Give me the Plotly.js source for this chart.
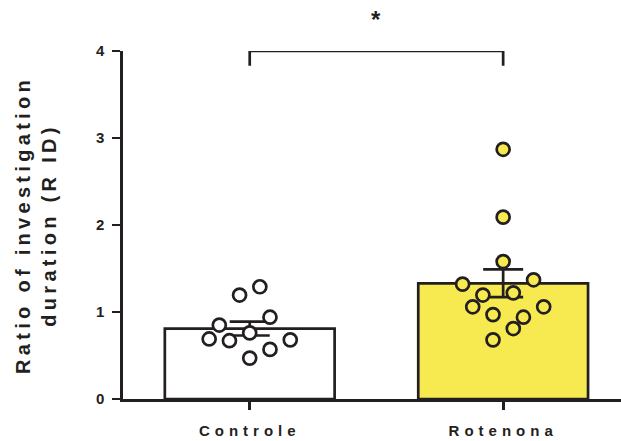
<!DOCTYPE html>
<html>
<head>
<meta charset="utf-8">
<script src="https://cdn.plot.ly/plotly-3.0.1.min.js"></script>
<style>
  html, body { margin: 0; padding: 0; background: #fff; }
  #chart .xtick text { letter-spacing: 5px; }
  #chart .ytitle { letter-spacing: 4.3px; }
</style>
</head>
<body>
<div id="chart" style="width:621px;height:441px;"></div>
<script>
// ---- data ----
const categories = ['Controle', 'Rotenona'];
const categoryPos = [0, 1];
const means = [0.81, 1.33];
const sems = [0.08, 0.16];

const controleOffsets = [-0.04, 0.04, -0.12, 0.08, -0.16, -0.08, 0.00, 0.16, 0.08, 0.00];
const controleValues  = [1.195, 1.29, 0.85, 0.94, 0.69, 0.67, 0.76, 0.68, 0.57, 0.47];

const rotenonaOffsets = [0.00, 0.00, 0.00, -0.16, 0.12, -0.08, 0.04, -0.12, -0.04, 0.16, 0.08, 0.04, -0.04];
const rotenonaValues  = [2.87, 2.09, 1.58, 1.32, 1.37, 1.195, 1.22, 1.06, 0.97, 1.06, 0.94, 0.81, 0.68];

const yTicks = [0, 1, 2, 3, 4];
const yMax = 4;
const sigLabel = '*';
const sigLevel = 4;      // bracket top
const sigDrop = 0.17;    // bracket leg length
const sigTextLevel = 4.54;

// ---- style ----
const ink = '#231f20';
const yellow = '#f7ea50';
const lw = 2.7;
const font = 'Liberation Sans, Arial, Helvetica, sans-serif';

const bars = {
  type: 'bar',
  x: categoryPos,
  y: means,
  width: 0.67,
  marker: { color: ['#ffffff', yellow], line: { color: ink, width: lw } },
  error_y: { type: 'data', array: sems, visible: true, color: ink, thickness: lw, width: 20 },
  hoverinfo: 'skip',
  showlegend: false
};

const ptsControle = {
  type: 'scatter', mode: 'markers',
  x: controleOffsets.map(d => categoryPos[0] + d),
  y: controleValues,
  marker: { size: 13, color: '#ffffff', line: { color: ink, width: lw } },
  cliponaxis: false, showlegend: false
};
const ptsRotenona = {
  type: 'scatter', mode: 'markers',
  x: rotenonaOffsets.map(d => categoryPos[1] + d),
  y: rotenonaValues,
  marker: { size: 13, color: yellow, line: { color: ink, width: lw } },
  cliponaxis: false, showlegend: false
};

const x0 = categoryPos[0], x1 = categoryPos[1];
const bracketPath = `M ${x0} ${sigLevel - sigDrop} L ${x0} ${sigLevel} L ${x1} ${sigLevel} L ${x1} ${sigLevel - sigDrop}`;

const layout = {
  width: 621, height: 441,
  margin: { l: 123, r: 0, t: 51, b: 42 },
  paper_bgcolor: '#ffffff', plot_bgcolor: '#ffffff',
  font: { family: font, color: ink },
  xaxis: {
    range: [-0.5, 1.465],
    tickvals: categoryPos, ticktext: categories,
    showline: true, linecolor: ink, linewidth: lw,
    ticks: 'outside', ticklen: 8, tickwidth: lw, tickcolor: ink,
    tickfont: { family: font, size: 15, weight: 700, color: ink },
    ticklabelstandoff: 8,
    showgrid: false, zeroline: false, fixedrange: true
  },
  yaxis: {
    range: [0, yMax],
    tickvals: yTicks,
    showline: true, linecolor: ink, linewidth: lw,
    ticks: 'outside', ticklen: 8, tickwidth: lw, tickcolor: ink,
    tickfont: { family: font, size: 15, weight: 700, color: ink },
    ticklabelstandoff: 5,
    showgrid: false, zeroline: false, fixedrange: true,
    title: {
      text: 'Ratio of investigation<br>duration (R ID)',
      font: { family: font, size: 20, weight: 700, color: ink },
      standoff: 34
    }
  },
  shapes: [{
    type: 'path', xref: 'x', yref: 'y', path: bracketPath,
    line: { color: ink, width: lw }
  }],
  annotations: [{
    xref: 'x', yref: 'paper', x: (x0 + x1) / 2, y: sigTextLevel / yMax,
    text: sigLabel, showarrow: false,
    font: { family: font, size: 24, weight: 700, color: ink }
  }],
  bargap: 0.33
};

Plotly.newPlot('chart', [bars, ptsControle, ptsRotenona], layout, { displayModeBar: false, staticPlot: true });
</script>
</body>
</html>
